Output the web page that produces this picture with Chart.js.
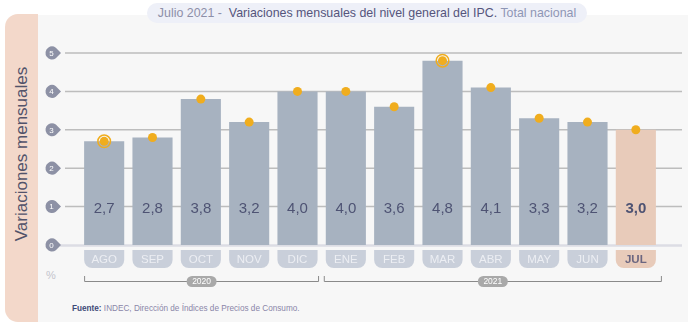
<!DOCTYPE html>
<html>
<head>
<meta charset="utf-8">
<script src="https://cdn.jsdelivr.net/npm/chart.js@4"></script>
<style>
  body { margin: 0; background: #fff; font-family: "Liberation Sans", Arial, sans-serif; }
  #wrap { position: relative; width: 688px; height: 326px; overflow: hidden; }
  #panel { position: absolute; left: 38px; top: 15px; width: 650px; height: 307px; background: #f7f7f7; }
  #band { position: absolute; left: 5px; top: 14px; width: 33px; height: 308px; background: #f3d8ca; border-radius: 13px 0 0 13px; }
  #title { position: absolute; left: 147px; top: 3px; width: 440px; height: 20px; line-height: 20px; border-radius: 10px;
           background: #eef0f8; text-align: center; font-size: 12.4px; color: #8d8fa8; white-space: nowrap; }
  #title .main { color: #55557c; }
  #title .sub { color: #8e96b5; }
  #ytitle { position: absolute; left: 22px; top: 154px; transform: translate(-50%, -50%) rotate(-90deg);
            font-size: 17px; color: #52536a; white-space: nowrap; }
  #pct { position: absolute; left: 46px; top: 269px; font-size: 11px; color: #c4c4cc; }
  #source { position: absolute; left: 72px; top: 304px; font-size: 8.2px; color: #8a86a8; white-space: nowrap; }
  #source b { color: #3e4a78; }
  #chart { position: absolute; left: 0; top: 0; }
</style>
</head>
<body>
<div id="wrap">
  <div id="panel"></div>
  <div id="band"></div>
  <div id="title">Julio 2021 - &nbsp;<span class="main">Variaciones mensuales del nivel general del IPC.</span> <span class="sub">Total nacional</span></div>
  <div id="ytitle">Variaciones mensuales</div>
  <div id="pct">%</div>
  <div id="source"><b>Fuente:</b> INDEC, Dirección de Índices de Precios de Consumo.</div>
  <canvas id="chart" width="688" height="326"></canvas>
</div>
<script>
// months shown on the x axis
var months = ['AGO', 'SEP', 'OCT', 'NOV', 'DIC', 'ENE', 'FEB', 'MAR', 'ABR', 'MAY', 'JUN', 'JUL'];
// monthly IPC variation, %
var ipc = [2.7, 2.8, 3.8, 3.2, 4.0, 4.0, 3.6, 4.8, 4.1, 3.3, 3.2, 3.0];
// points drawn with an extra ring (min / max of the period)
var ringed = [2.7, null, null, null, null, null, null, 4.8, null, null, null, null];
var yTicks = [0, 1, 2, 3, 4, 5];
// year groups under the month labels
var yearLabels = ['2020', '2021'];
var yearFirst = [0, 5];
var yearLast = [4, 11];

var barGray = '#a7b2c0';
var barLast = '#e8cbba';
var dotColor = '#f0ad1e';

function pathRound(ctx, x, y, w, h, r) {
    // r = [tl, tr, br, bl]
    ctx.beginPath();
    ctx.moveTo(x + r[0], y);
    ctx.lineTo(x + w - r[1], y);
    ctx.arcTo(x + w, y, x + w, y + r[1], r[1]);
    ctx.lineTo(x + w, y + h - r[2]);
    ctx.arcTo(x + w, y + h, x + w - r[2], y + h, r[2]);
    ctx.lineTo(x + r[3], y + h);
    ctx.arcTo(x, y + h, x, y + h - r[3], r[3]);
    ctx.lineTo(x, y + r[0]);
    ctx.arcTo(x, y, x + r[0], y, r[0]);
    ctx.closePath();
}

var decor = {
    id: 'decor',
    beforeDatasetsDraw: function (chart) {
        var ctx = chart.ctx;
        var y = chart.scales.y;
        ctx.save();
        yTicks.forEach(function (v) {
            var py = y.getPixelForValue(v);
            ctx.beginPath();
            if (v === 0) {
                ctx.strokeStyle = '#dcdde4';
                ctx.lineWidth = 2.5;
                ctx.moveTo(60, py + 0.5);
            } else {
                ctx.strokeStyle = '#bdbdbd';
                ctx.lineWidth = 1.5;
                ctx.moveTo(65, py);
            }
            ctx.lineTo(682, v === 0 ? py + 0.5 : py);
            ctx.stroke();
            // tick bubble
            ctx.fillStyle = '#8d91a5';
            ctx.beginPath();
            ctx.arc(52, py, 6.5, Math.PI * 0.3, Math.PI * 1.7);
            ctx.lineTo(61, py);
            ctx.closePath();
            ctx.fill();
            ctx.fillStyle = '#ffffff';
            ctx.font = '8px "Liberation Sans", Arial, sans-serif';
            ctx.textAlign = 'center';
            ctx.textBaseline = 'middle';
            ctx.fillText(String(v), 51.5, py + 0.5);
        });
        ctx.restore();
    },
    afterDatasetsDraw: function (chart) {
        var ctx = chart.ctx;
        var y = chart.scales.y;
        var bars = chart.getDatasetMeta(0).data;
        var base = y.getPixelForValue(0);
        ctx.save();
        ctx.textAlign = 'center';
        ctx.textBaseline = 'middle';
        bars.forEach(function (bar, i) {
            var last = i === bars.length - 1;
            var left = bar.x - bar.width / 2;
            // month pill
            ctx.fillStyle = last ? barLast : '#c9cfda';
            pathRound(ctx, left, base + 5, bar.width, 18, [0, 0, 8, 8]);
            ctx.fill();
            ctx.fillStyle = last ? '#6b6680' : '#eceef3';
            ctx.font = (last ? 'bold ' : '') + '11.5px "Liberation Sans", Arial, sans-serif';
            ctx.fillText(months[i], bar.x, base + 14.5);
            // value label
            ctx.fillStyle = '#4e5373';
            ctx.font = (last ? 'bold ' : '') + '15px "Liberation Sans", Arial, sans-serif';
            ctx.fillText(ipc[i].toFixed(1).replace('.', ','), bar.x, y.getPixelForValue(1) + 2);
        });
        // year brackets
        var by = base + 36;
        yearLabels.forEach(function (lab, k) {
            var a = bars[yearFirst[k]], b = bars[yearLast[k]];
            var x0 = a.x - a.width / 2 - (k === 0 ? 0 : 2);
            var x1 = b.x + b.width / 2 + (k === 0 ? 1.5 : 6);
            ctx.strokeStyle = '#8a8a8a';
            ctx.lineWidth = 1;
            ctx.beginPath();
            ctx.moveTo(x0 + 0.5, by - 5);
            ctx.lineTo(x0 + 0.5, by + 0.5);
            ctx.lineTo(x1 - 0.5, by + 0.5);
            ctx.lineTo(x1 - 0.5, by - 5);
            ctx.stroke();
            var cx = (x0 + x1) / 2;
            ctx.fillStyle = '#a9a9a9';
            pathRound(ctx, cx - 15, by - 5, 30, 11, [5.5, 5.5, 5.5, 5.5]);
            ctx.fill();
            ctx.fillStyle = '#ffffff';
            ctx.font = '8.5px "Liberation Sans", Arial, sans-serif';
            ctx.fillText(lab, cx, by + 0.5);
        });
        ctx.restore();
    }
};

new Chart(document.getElementById('chart'), {
    type: 'bar',
    data: {
        labels: months,
        datasets: [
            {
                type: 'bar',
                data: ipc,
                backgroundColor: months.map(function (m, i) { return i === months.length - 1 ? barLast : barGray; }),
                borderWidth: 0,
                categoryPercentage: 1,
                barPercentage: 0.83,
                order: 3
            },
            {
                type: 'line',
                data: ringed,
                showLine: false,
                pointRadius: 6.3,
                pointBackgroundColor: 'rgba(0,0,0,0)',
                pointBorderColor: dotColor,
                pointBorderWidth: 1.5,
                order: 1
            },
            {
                type: 'line',
                data: ipc,
                showLine: false,
                pointRadius: 4.5,
                pointBackgroundColor: dotColor,
                pointBorderWidth: 0,
                order: 2
            }
        ]
    },
    options: {
        responsive: false,
        animation: false,
        layout: { padding: { left: 80, right: 28, top: 53, bottom: 81 } },
        scales: {
            x: { display: false },
            y: { display: false, min: 0, max: 5 }
        },
        plugins: {
            legend: { display: false },
            tooltip: { enabled: false }
        }
    },
    plugins: [decor]
});
</script>
</body>
</html>
